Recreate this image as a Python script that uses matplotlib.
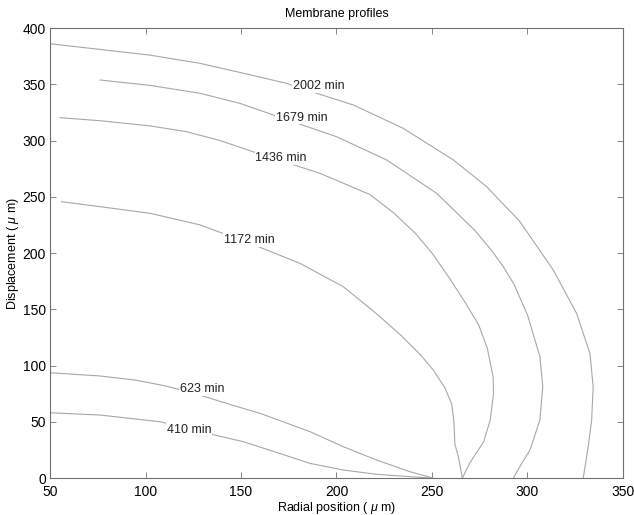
import matplotlib
matplotlib.use("Agg")
import matplotlib.pyplot as plt

plt.rcParams["font.family"] = ["Liberation Sans", "DejaVu Sans"]
plt.rcParams["mathtext.fontset"] = "custom"
plt.rcParams["mathtext.it"] = "Liberation Sans:italic"

# membrane profiles (radial position, displacement)
x_2002 = [50, 76, 102, 128.5, 149.5, 173.9, 190.5, 208.8, 235, 261.2, 278.6,
          296, 313.5, 325.7, 332.7, 334.4, 333.6, 331.8, 329.2]
y_2002 = [386, 381, 376, 368.6, 360.5, 350.8, 341.5, 331.6, 310.8, 282.7, 259,
          228, 184.9, 146.4, 110.8, 81.2, 51.5, 27.8, 0]

x_1679 = [76.2, 102.4, 128.5, 149.5, 166.9, 181.8, 200, 226.3, 252.5, 272.5,
          281, 287.3, 293, 300, 306.5, 308, 306.5, 301.3, 297, 292.6]
y_1679 = [353.8, 349, 342, 333, 322.7, 314, 303.4, 282.7, 253, 220,
          202.7, 188, 172, 145, 108, 81.2, 51.5, 24.9, 13, 0]

x_1436 = [55.2, 76.2, 102.4, 121.6, 139, 156.4, 171, 191.4, 217.5, 229.7, 241,
          250, 259.4, 267, 274.5, 279, 282, 282.2, 280.5, 277, 270, 265.9]
y_1436 = [320.3, 317.6, 313, 307.8, 300, 290, 282, 270.8, 252, 236, 218,
          200, 177, 157, 136, 115, 90, 75, 51.5, 32, 14, 0]

x_1172 = [56, 76.2, 102.4, 128.5, 146, 156.4, 180.9, 203.6, 221, 233, 243.7,
          250.7, 256.8, 260.3, 261.5, 262, 263.8, 265.9]
y_1172 = [245.6, 241.2, 235.3, 225, 214, 207.5, 190.8, 170, 146, 128, 110,
          96, 80, 66, 50, 30, 19, 0]

x_623 = [50, 76.2, 95, 110, 125, 146, 160, 186.1, 203.6, 221, 238.5, 250.5]
y_623 = [93.6, 90.7, 87, 82, 75.5, 64.5, 57.5, 41.2, 27.8, 16, 5.6, 0]

x_410 = [50, 76.2, 102.4, 107.6, 128.5, 151.2, 170, 186.1, 203.6, 221, 249]
y_410 = [58, 56, 51, 50, 41.2, 32.3, 22, 13, 7.1, 3.3, 0]

curves = [(x_410, y_410), (x_623, y_623), (x_1172, y_1172),
          (x_1436, y_1436), (x_1679, y_1679), (x_2002, y_2002)]

labels = ["410 min", "623 min", "1172 min", "1436 min", "1679 min", "2002 min"]
label_x = [122.9, 129.8, 154.2, 171, 181.8, 190.5]
label_y = [42.7, 79, 211.6, 284.2, 320.3, 348.4]

fig = plt.figure(figsize=(6.34, 5.15), dpi=100)
ax = fig.add_axes([0.0789, 0.0718, 0.9037, 0.8738])

for xs, ys in curves:
    ax.plot(xs, ys, color="#a8a8a8", linewidth=0.8)

for lab, lx, ly in zip(labels, label_x, label_y):
    ax.text(lx, ly, lab, ha="center", va="center", fontsize=9, color="#222222",
            bbox=dict(facecolor="white", edgecolor="none", pad=0.5))

ax.set_xlim(50, 350)
ax.set_ylim(0, 400)
ax.set_xticks(range(50, 351, 50))
ax.set_yticks(range(0, 401, 50))
ax.tick_params(direction="in", top=True, right=True, labelsize=10,
               length=4, width=0.6, color="#707070")
ax.tick_params(axis="x", pad=5)
ax.tick_params(axis="y", pad=3)
for spine in ax.spines.values():
    spine.set_color("#707070")
    spine.set_linewidth(0.8)

ax.set_title("Membrane profiles", fontsize=9, pad=8)
ax.set_xlabel("Radial position ( $\\mu$ m)", fontsize=9, labelpad=1)
ax.set_ylabel("Displacement ( $\\mu$ m)", fontsize=9, labelpad=1)

fig.savefig("out.png", dpi=100)
